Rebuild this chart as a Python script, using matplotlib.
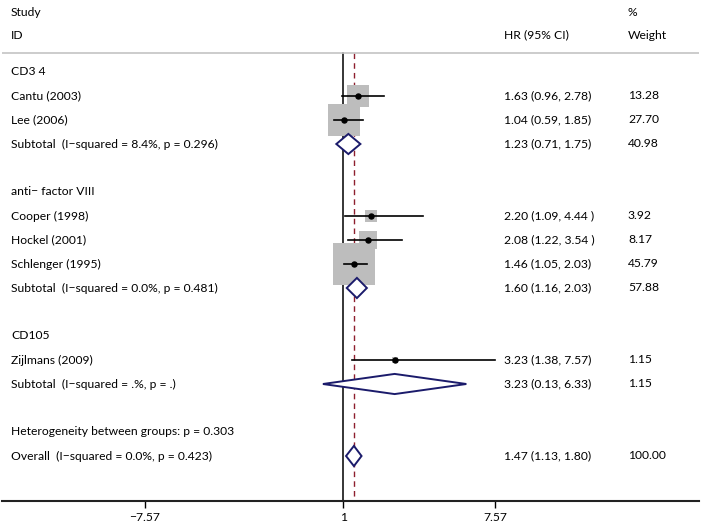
import matplotlib.pyplot as plt
import matplotlib.transforms as mtransforms
from matplotlib.patches import Polygon

plt.rcParams['font.family'] = ['Lato', 'DejaVu Sans']

# study level data
groups = ['CD3 4', 'anti\u2212 factor VIII', 'CD105']
group_of = [0, 0, 1, 1, 1, 2]
studies = ['Cantu (2003)', 'Lee (2006)', 'Cooper (1998)', 'Hockel (2001)',
           'Schlenger (1995)', 'Zijlmans (2009)']
hr = [1.63, 1.04, 2.20, 2.08, 1.46, 3.23]
lo = [0.96, 0.59, 1.09, 1.22, 1.05, 1.38]
hi = [2.78, 1.85, 4.44, 3.54, 2.03, 7.57]
hr_text = ['1.63 (0.96, 2.78)', '1.04 (0.59, 1.85)', '2.20 (1.09, 4.44 )',
           '2.08 (1.22, 3.54 )', '1.46 (1.05, 2.03)', '3.23 (1.38, 7.57)']
weights = [13.28, 27.70, 3.92, 8.17, 45.79, 1.15]

# subtotals per group
sub_labels = ['Subtotal  (I\u2212squared = 8.4%, p = 0.296)',
              'Subtotal  (I\u2212squared = 0.0%, p = 0.481)',
              'Subtotal  (I\u2212squared = .%, p = .)']
sub_hr = [1.23, 1.60, 3.23]
sub_lo = [0.71, 1.16, 0.13]
sub_hi = [1.75, 2.03, 6.33]
sub_text = ['1.23 (0.71, 1.75)', '1.60 (1.16, 2.03)', '3.23 (0.13, 6.33)']
sub_weights = ['40.98', '57.88', '1.15']

het_label = 'Heterogeneity between groups: p = 0.303'
overall_label = 'Overall  (I\u2212squared = 0.0%, p = 0.423)'
overall_hr, overall_lo, overall_hi = 1.47, 1.13, 1.80
overall_text = '1.47 (1.13, 1.80)'
overall_weight = '100.00'

xticks = [-7.57, 1, 7.57]
xtick_labels = ['\u22127.57', '1', '7.57']

navy = '#1b1b6b'
fs = 8.7

fig = plt.figure(figsize=(7.02, 5.26), dpi=100)
ax = fig.add_axes([2 / 702, 25 / 526, 697 / 702, 501 / 526])
ax.set_xlim(-13.74, 16.385)
ax.set_ylim(17.875, -3.0)

txt = mtransforms.blended_transform_factory(ax.transAxes, ax.transData)
x_id, x_hr, x_w = 0.0129, 0.7203, 0.898

def diamond(r, c, l, h):
    d = Polygon([(l, r), (c, r - 0.42), (h, r), (c, r + 0.42)], closed=True,
                facecolor='white', edgecolor=navy, lw=1.4, zorder=4)
    ax.add_patch(d)

# headers
ax.text(x_id, -2.5, 'Study', transform=txt, va='center', fontsize=fs)
ax.text(x_id, -1.54, 'ID', transform=txt, va='center', fontsize=fs)
ax.text(x_hr, -1.54, 'HR (95% CI)', transform=txt, va='center', fontsize=fs)
ax.text(x_w, -2.5, '%', transform=txt, va='center', fontsize=fs)
ax.text(x_w, -1.54, 'Weight', transform=txt, va='center', fontsize=fs)
top_r = -0.79
ax.axhline(top_r, color='#c4c4c4', lw=1.2)

r = 0
for g, name in enumerate(groups):
    ax.text(x_id, r, name, transform=txt, va='center', fontsize=fs)
    r += 1
    for i in range(len(studies)):
        if group_of[i] != g:
            continue
        ax.scatter(hr[i], r, s=19.2 * weights[i], marker='s', color='#bdbdbd',
                   linewidths=0, zorder=2)
        ax.plot([lo[i], hi[i]], [r, r], color='black', lw=1.2, zorder=3)
        ax.plot(hr[i], r, 'o', color='black', ms=3.6, zorder=3)
        ax.text(x_id, r, studies[i], transform=txt, va='center', fontsize=fs)
        ax.text(x_hr, r, hr_text[i], transform=txt, va='center', fontsize=fs)
        ax.text(x_w, r, f'{weights[i]:.2f}', transform=txt, va='center', fontsize=fs)
        r += 1
    diamond(r, sub_hr[g], sub_lo[g], sub_hi[g])
    ax.text(x_id, r, sub_labels[g], transform=txt, va='center', fontsize=fs)
    ax.text(x_hr, r, sub_text[g], transform=txt, va='center', fontsize=fs)
    ax.text(x_w, r, sub_weights[g], transform=txt, va='center', fontsize=fs)
    r += 2

ax.text(x_id, r, het_label, transform=txt, va='center', fontsize=fs)
r += 1
diamond(r, overall_hr, overall_lo, overall_hi)
ax.text(x_id, r, overall_label, transform=txt, va='center', fontsize=fs)
ax.text(x_hr, r, overall_text, transform=txt, va='center', fontsize=fs)
ax.text(x_w, r, overall_weight, transform=txt, va='center', fontsize=fs)

# reference lines
ax.plot([1, 1], [top_r, 17.875], color='black', lw=1.1, zorder=1)
ax.plot([overall_hr, overall_hr], [top_r, 17.875], color='#8e1f2e', lw=1.0,
        ls=(0, (4, 3)), zorder=1)

for s in ['top', 'left', 'right']:
    ax.spines[s].set_visible(False)
ax.spines['bottom'].set_linewidth(1.5)
ax.spines['bottom'].set_color('#222222')
ax.set_yticks([])
ax.set_xticks(xticks)
ax.set_xticklabels(xtick_labels)
ax.tick_params(axis='x', length=5, width=1, pad=3, labelsize=fs)

plt.savefig('out.png', dpi=100)
